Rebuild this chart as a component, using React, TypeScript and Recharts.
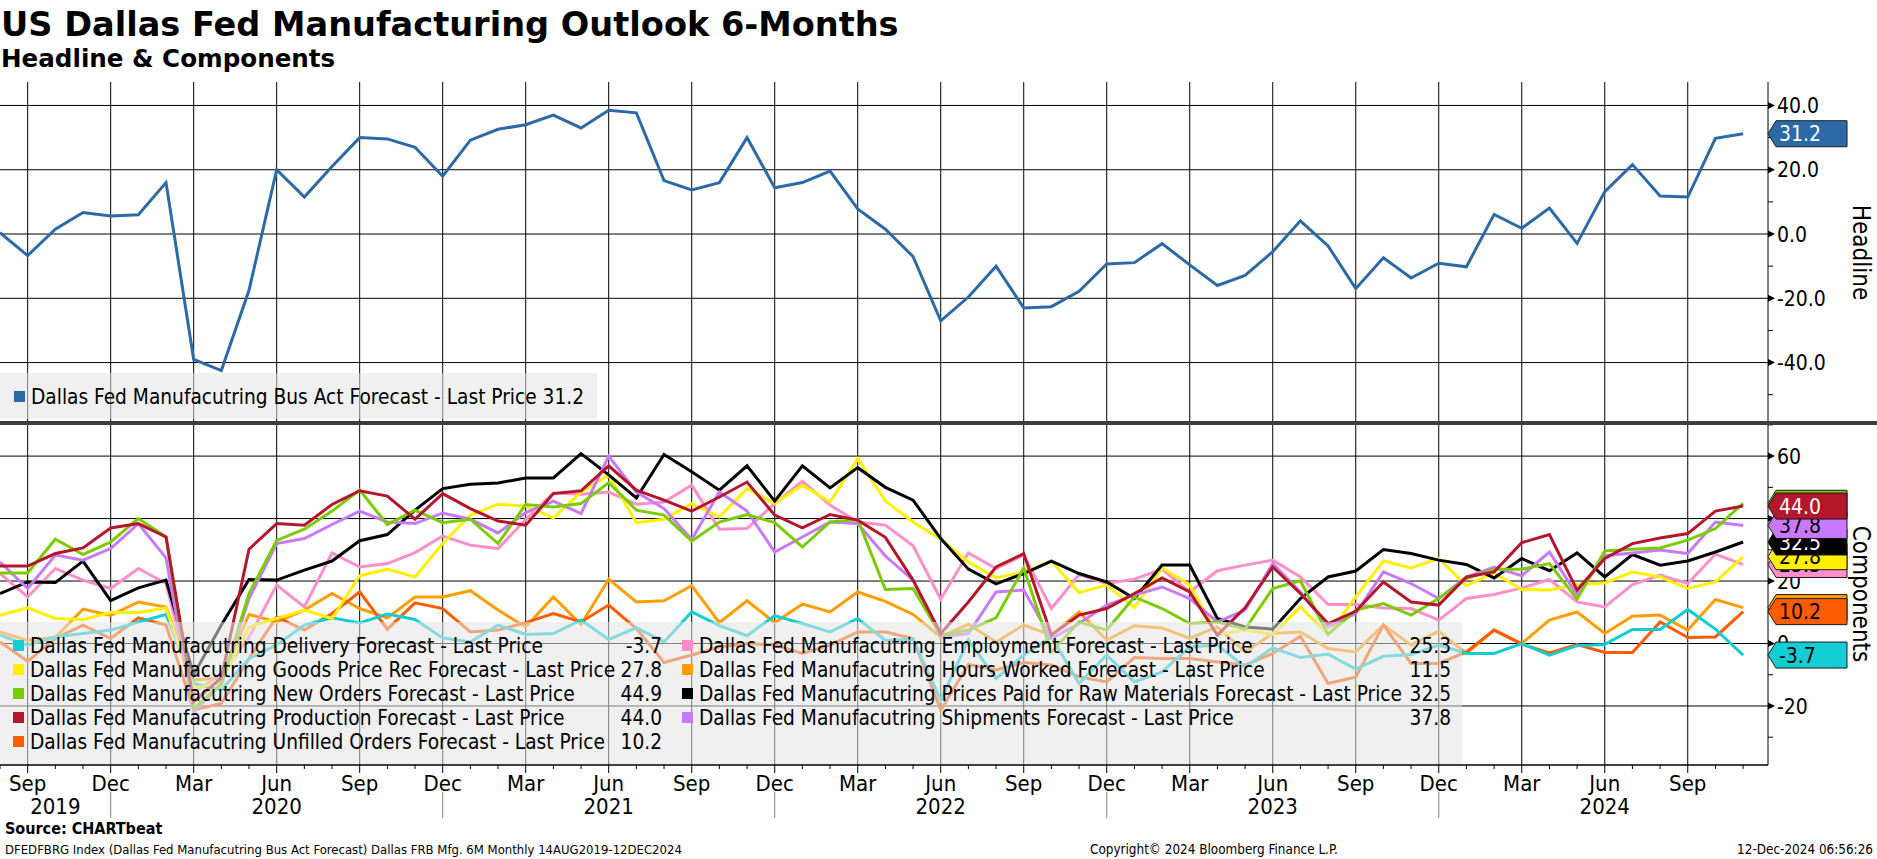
import React from 'react';
import { LineChart, Line, XAxis, YAxis, CartesianGrid, LabelList } from 'recharts';

// ---------- categories ----------
const months = [
  'Aug 2019', 'Sep 2019', 'Oct 2019', 'Nov 2019', 'Dec 2019',
  'Jan 2020', 'Feb 2020', 'Mar 2020', 'Apr 2020', 'May 2020', 'Jun 2020', 'Jul 2020', 'Aug 2020', 'Sep 2020', 'Oct 2020', 'Nov 2020', 'Dec 2020',
  'Jan 2021', 'Feb 2021', 'Mar 2021', 'Apr 2021', 'May 2021', 'Jun 2021', 'Jul 2021', 'Aug 2021', 'Sep 2021', 'Oct 2021', 'Nov 2021', 'Dec 2021',
  'Jan 2022', 'Feb 2022', 'Mar 2022', 'Apr 2022', 'May 2022', 'Jun 2022', 'Jul 2022', 'Aug 2022', 'Sep 2022', 'Oct 2022', 'Nov 2022', 'Dec 2022',
  'Jan 2023', 'Feb 2023', 'Mar 2023', 'Apr 2023', 'May 2023', 'Jun 2023', 'Jul 2023', 'Aug 2023', 'Sep 2023', 'Oct 2023', 'Nov 2023', 'Dec 2023',
  'Jan 2024', 'Feb 2024', 'Mar 2024', 'Apr 2024', 'May 2024', 'Jun 2024', 'Jul 2024', 'Aug 2024', 'Sep 2024', 'Oct 2024', 'Nov 2024',
];

// ---------- series ----------
const headline = [0.4, -6.7, 1.5, 6.7, 5.6, 6.0, 16.0, -39.0, -42.5, -17.5, 20.0, 11.5, 21.0, 30.0, 29.6, 27.0, 18.0, 29.2, 32.6, 34.0, 37.0, 33.0, 38.5, 37.7, 16.6, 13.7, 16.0, 30.0, 14.4, 16.0, 19.6, 7.8, 1.5, -7.0, -27.0, -19.6, -10.0, -23.0, -22.6, -17.8, -9.3, -8.9, -3.0, -9.6, -16.0, -12.9, -5.5, 4.1, -3.7, -17.0, -7.4, -13.7, -9.1, -10.2, 6.1, 1.8, 8.1, -2.9, 13.2, 21.6, 11.8, 11.5, 29.8, 31.2];
const delivery = [2.7, -0.5, 2.1, 3.2, 4.3, 6.9, 9.3, -12.8, -14.9, -4.8, -0.5, 5.9, 8.2, 6.6, 9.4, 7.7, 1.8, 0.5, 5.9, 2.9, 3.2, 7.5, 1.3, 5.1, 0.5, 10.1, 5.7, 2.5, 8.9, 6.4, 3.7, 8.0, 1.0, 1.4, -18.1, 1.1, -11.2, -3.7, 2.1, -12.8, -3.7, -12.3, -9.1, -1.1, -0.5, -7.5, -1.4, -4.5, -3.4, -8.2, -4.1, -3.5, -0.5, -3.2, -3.2, 0.0, -3.7, -0.7, -0.3, 4.5, 4.5, 10.9, 4.6, -3.7];
const goodsPrice = [9.0, 11.4, 8.0, 7.7, 9.9, 9.9, 11.4, -14.4, -12.3, 5.3, 8.0, 10.7, 8.0, 21.7, 23.8, 21.3, 32.0, 41.1, 44.6, 44.0, 40.2, 48.5, 53.9, 38.7, 39.8, 44.8, 40.5, 49.6, 44.8, 50.7, 45.3, 59.2, 45.6, 38.9, 33.4, 26.1, 21.0, 22.9, 26.4, 16.3, 18.7, 11.5, 24.2, 18.7, 2.9, 4.3, 2.9, 11.7, 2.9, 14.9, 26.4, 24.2, 27.2, 18.5, 22.7, 17.3, 17.1, 18.9, 19.4, 22.9, 21.3, 17.6, 19.7, 27.8];
const newOrders = [22.6, 22.6, 33.4, 28.5, 32.5, 40.0, 34.1, -20.8, -13.0, 16.0, 33.0, 36.6, 42.4, 49.1, 38.1, 42.7, 38.7, 39.8, 32.0, 44.5, 43.7, 44.8, 51.5, 42.7, 41.1, 32.8, 38.9, 41.3, 38.7, 30.9, 38.9, 39.7, 17.3, 17.6, 2.7, 4.3, 8.2, 24.2, -2.7, 6.9, 4.3, 14.9, 11.2, 6.4, 6.9, 4.6, 17.6, 20.1, 2.9, 10.7, 12.8, 9.1, 14.4, 20.8, 23.8, 23.8, 25.6, 14.2, 29.6, 30.2, 30.6, 33.1, 36.8, 44.9];
const production = [24.8, 24.8, 28.8, 30.6, 37.0, 38.4, 34.1, -18.7, -11.0, 30.2, 38.4, 37.9, 44.5, 48.9, 47.2, 39.8, 48.0, 43.2, 39.2, 37.9, 48.0, 48.9, 56.9, 49.1, 45.9, 42.4, 46.9, 51.7, 41.1, 37.0, 41.3, 39.5, 34.0, 20.3, 3.2, 13.3, 24.5, 28.8, 2.7, 9.1, 11.2, 16.0, 21.0, 16.5, 2.7, 11.4, 24.5, 16.0, 6.4, 10.3, 19.7, 13.3, 12.3, 21.3, 22.9, 32.3, 34.9, 17.1, 27.2, 32.0, 33.8, 35.2, 42.4, 44.0];
const unfilled = [0.5, -5.7, 1.6, 5.9, 1.6, 8.2, 5.9, -21.3, -19.2, -4.8, 8.5, 4.3, 9.6, 16.5, 4.6, 13.0, 11.2, 3.7, 4.3, 6.7, 9.6, 6.9, 12.3, 4.8, -6.1, -3.7, -1.1, 0.0, -0.5, -3.2, -0.5, 3.7, 3.7, 1.6, -21.3, -6.7, -8.5, -6.1, -6.9, -10.7, -12.3, -4.5, -4.8, -4.8, -5.9, -6.9, -3.2, 2.3, -12.8, -10.7, 5.9, -6.4, -6.4, -2.7, 4.3, -0.2, -3.0, -0.3, -2.9, -2.9, 6.9, 1.9, 2.1, 10.2];
const employment = [22.4, 14.9, 24.0, 20.3, 17.6, 24.0, 19.2, -15.5, -10.0, 2.0, 18.7, 11.7, 29.0, 24.5, 25.6, 29.1, 34.4, 31.5, 30.4, 39.7, 48.2, 47.8, 48.5, 44.6, 45.3, 50.7, 36.6, 36.8, 44.8, 52.0, 44.3, 38.9, 37.9, 31.3, 14.2, 29.0, 24.0, 28.3, 11.2, 22.1, 19.2, 20.6, 23.8, 16.5, 23.3, 25.1, 26.7, 21.3, 12.5, 12.5, 11.4, 11.2, 7.5, 14.4, 15.7, 17.8, 20.5, 13.3, 11.7, 18.9, 21.9, 19.2, 28.6, 25.3];
const hoursWorked = [3.7, 1.0, 2.0, 11.0, 9.0, 13.3, 11.7, -11.7, -11.0, 9.3, 6.9, 10.7, 16.0, 11.2, 8.2, 14.9, 14.9, 16.9, 10.7, 5.3, 14.9, 6.1, 20.6, 13.3, 13.7, 18.5, 6.7, 13.7, 6.7, 12.6, 10.1, 16.5, 13.5, 9.3, 2.1, 6.2, 0.5, 5.9, 2.7, 10.1, 1.1, 5.7, 5.0, 1.6, 5.3, -2.7, 3.2, 3.7, -1.6, -2.7, 5.9, -0.5, 3.9, -3.2, 4.3, 0.0, 7.5, 10.1, 3.2, 8.7, 9.1, 4.3, 14.1, 11.5];
const pricesPaid = [16.0, 19.7, 19.5, 26.4, 13.7, 17.8, 20.3, -10.0, 5.9, 20.5, 20.3, 23.5, 26.4, 32.9, 34.9, 42.7, 49.6, 51.0, 51.4, 53.0, 53.0, 60.8, 54.0, 46.6, 60.5, 55.0, 49.1, 56.9, 45.6, 56.9, 49.8, 56.3, 50.0, 45.9, 33.6, 23.8, 19.1, 22.4, 26.4, 22.4, 19.7, 14.4, 25.1, 25.1, 8.0, 5.3, 4.6, 14.4, 21.3, 23.2, 30.1, 28.8, 26.7, 25.3, 21.0, 27.2, 23.3, 29.0, 21.3, 28.5, 25.1, 26.4, 29.3, 32.5];
const shipments = [26.1, 17.6, 28.3, 26.7, 30.4, 38.4, 27.4, -21.9, -13.0, 14.4, 32.0, 33.6, 38.1, 42.4, 38.9, 38.4, 41.8, 39.8, 35.4, 41.9, 45.6, 41.6, 60.0, 48.5, 43.2, 33.3, 48.5, 42.4, 29.3, 34.1, 38.9, 38.4, 28.0, 20.3, 2.1, 3.2, 16.5, 17.1, 1.6, 6.4, 12.3, 15.5, 18.1, 14.4, 6.9, 10.7, 25.6, 16.5, 5.3, 9.6, 22.9, 19.2, 14.4, 21.3, 24.5, 21.7, 29.3, 15.5, 28.1, 29.0, 29.9, 28.8, 38.9, 37.8];

// ---------- ticks ----------
const quarterTicks = [1, 4, 7, 10, 13, 16, 19, 22, 25, 28, 31, 34, 37, 40, 43, 46, 49, 52, 55, 58, 61];
const quarterLabels = ['Sep', 'Dec', 'Mar', 'Jun', 'Sep', 'Dec', 'Mar', 'Jun', 'Sep', 'Dec', 'Mar', 'Jun', 'Sep', 'Dec', 'Mar', 'Jun', 'Sep', 'Dec', 'Mar', 'Jun', 'Sep'];
const yearTicks = [2, 10, 22, 34, 46, 58];
const yearLabels = ['2019', '2020', '2021', '2022', '2023', '2024'];
const yearSeparators = [4, 16, 28, 40, 52];
const headlineMajorTicks = [-40, -20, 0, 20, 40];
const headlineMinorTicks = [-50, -30, -10, 10, 30];
const compMajorTicks = [-20, 0, 20, 40, 60];
const compMinorTicks = [-30, -10, 10, 30, 50, 70];

// ---------- series styling ----------
const seriesNames: Record<string, string> = {
  delivery: 'Dallas Fed Manufacutring Delivery Forecast - Last Price',
  goodsPrice: 'Dallas Fed Manufacutring Goods Price Rec Forecast - Last Price',
  newOrders: 'Dallas Fed Manufacutring New Orders Forecast - Last Price',
  production: 'Dallas Fed Manufacutring Production Forecast - Last Price',
  unfilled: 'Dallas Fed Manufacutring Unfilled Orders Forecast - Last Price',
  employment: 'Dallas Fed Manufacutring Employment Forecast - Last Price',
  hoursWorked: 'Dallas Fed Manufacutring Hours Worked Forecast - Last Price',
  pricesPaid: 'Dallas Fed Manufacutring Prices Paid for Raw Materials Forecast - Last Price',
  shipments: 'Dallas Fed Manufacutring Shipments Forecast - Last Price',
  headline: 'Dallas Fed Manufacutring Bus Act Forecast - Last Price',
};
const seriesColors: Record<string, string> = {
  headline: '#2b6aa6',
  delivery: '#14cdd2',
  goodsPrice: '#fff000',
  newOrders: '#7acc00',
  production: '#b4162c',
  unfilled: '#ff5c00',
  employment: '#ff8fca',
  hoursWorked: '#ff9e00',
  pricesPaid: '#000000',
  shipments: '#c879ff',
};
const tagTextColors: Record<string, string> = {
  headline: '#ffffff', delivery: '#000000', goodsPrice: '#000000', newOrders: '#000000', production: '#ffffff',
  unfilled: '#000000', employment: '#000000', hoursWorked: '#000000', pricesPaid: '#ffffff', shipments: '#000000',
};
const seriesData: Record<string, number[]> = {
  headline, delivery, goodsPrice, newOrders, production, unfilled, employment, hoursWorked, pricesPaid, shipments,
};
const drawOrder = ['hoursWorked', 'unfilled', 'delivery', 'employment', 'goodsPrice', 'pricesPaid', 'shipments', 'newOrders', 'production'];
const legendCol1 = ['delivery', 'goodsPrice', 'newOrders', 'production', 'unfilled'];
const legendCol2 = ['employment', 'hoursWorked', 'pricesPaid', 'shipments'];

const rows = months.map((label, i) => {
  const r: Record<string, any> = { m: i, label };
  Object.keys(seriesData).forEach((k) => { r[k] = seriesData[k][i]; });
  return r;
});
const LAST = months.length - 1;

// ---------- layout ----------
const W = 1877;
const H = 859;
const PLOT_RIGHT = 1768;
const AXIS_W = W - PLOT_RIGHT;
const TOP_Y0 = 82;
const TOP_Y1 = 423;
const BOT_Y1 = 765;
const X_AXIS_H = 60;
const X_DOMAIN: [number, number] = [0, 63.9];
const TOP_DOMAIN: [number, number] = [-58.8, 47.3];
const BOT_DOMAIN: [number, number] = [-38.9, 70.6];
const COND = '"DejaVu Sans Condensed", "DejaVu Sans", sans-serif';
const SANS = '"DejaVu Sans", sans-serif';
const LEGEND_FS = 20.7;

const TAG_NECK = PLOT_RIGHT + 8;
const TAG_RIGHT = 1847;
const TAG_HALF = 13;

function Tag({ y, fill, color, text }: { y: number; fill: string; color: string; text: string }) {
  return (
    <g>
      <path
        d={`M${PLOT_RIGHT},${y} L${TAG_NECK},${y - TAG_HALF} L${TAG_RIGHT},${y - TAG_HALF} L${TAG_RIGHT},${y + TAG_HALF} L${TAG_NECK},${y + TAG_HALF} Z`}
        fill={fill}
        stroke="#1a1a1a"
        strokeWidth={1}
      />
      <text x={TAG_NECK + 3} y={y} dy="0.36em" fontSize={21} fill={color} fontFamily={COND} fontStretch="condensed">
        {text}
      </text>
    </g>
  );
}

const tagContent = (key: string) => (props: any) => {
  if (props.index !== LAST) return null;
  const y = Number(props.y ?? props.viewBox?.y);
  const v = Number(props.value);
  return <Tag y={y} fill={seriesColors[key]} color={tagTextColors[key]} text={v.toFixed(1)} />;
};

const makeYTick = (majors: number[], minors: number[], decimals: number) => (props: any) => {
  const { x, y, payload } = props;
  const v = payload.value;
  if (majors.includes(v)) {
    return (
      <g>
        <path d={`M${x},${y - 3.5} L${x + 7},${y} L${x},${y + 3.5} Z`} fill="#000" />
        <text x={x + 9} y={y} dy="0.36em" fontSize={21} fill="#000" fontFamily={COND} fontStretch="condensed">
          {v.toFixed(decimals)}
        </text>
      </g>
    );
  }
  if (minors.includes(v)) return <line x1={x} y1={y} x2={x + 5} y2={y} stroke="#000" strokeWidth={1} />;
  return null;
};

const MonthTick = (props: any) => {
  const { x, y, payload } = props;
  const v = payload.value;
  const qi = quarterTicks.indexOf(v);
  const yi = yearTicks.indexOf(v);
  const sep = yearSeparators.includes(v);
  return (
    <g>
      <line x1={x} y1={y} x2={x} y2={y + (qi >= 0 ? 8 : 4)} stroke="#000" strokeWidth={1} />
      {qi >= 0 && (
        <text x={x} y={y + 18} dy="0.36em" textAnchor="middle" fontSize={22} fill="#000" fontFamily={COND} fontStretch="condensed">
          {quarterLabels[qi]}
        </text>
      )}
      {yi >= 0 && (
        <text x={x} y={y + 41} dy="0.36em" textAnchor="middle" fontSize={22} fill="#000" fontFamily={COND} fontStretch="condensed">
          {yearLabels[yi]}
        </text>
      )}
      {sep && <line x1={x} y1={y + 27} x2={x} y2={y + 53} stroke="#808080" strokeWidth={1} />}
    </g>
  );
};

const axisTitle = (text: string) => (props: any) => {
  const vb = props.viewBox || {};
  const cx = vb.x + vb.width - 15;
  const cy = vb.y + vb.height / 2;
  return (
    <text transform={`translate(${cx},${cy}) rotate(90)`} textAnchor="middle" dy="0.36em" fontSize={24} fill="#000" fontFamily={COND} fontStretch="condensed">
      {text}
    </text>
  );
};

const legendBg = 'rgba(228,228,228,0.55)';

function LegendRow({ keyName, left, cy, valueRight }: { keyName: string; left: number; cy: number; valueRight: number }) {
  const data = seriesData[keyName];
  const common: React.CSSProperties = {
    position: 'absolute', top: cy - 12, height: 24, lineHeight: '24px', fontSize: LEGEND_FS,
    fontFamily: COND, fontStretch: 'condensed', whiteSpace: 'nowrap', color: '#000',
  };
  return (
    <>
      <div style={{ position: 'absolute', left: left, top: cy - 6, width: 11, height: 11, background: seriesColors[keyName] }} />
      <div style={{ ...common, left: left + 17 }}>{seriesNames[keyName]}</div>
      <div style={{ ...common, left: valueRight - 60, width: 60, textAlign: 'right' }}>
        {data[data.length - 1].toFixed(1)}
      </div>
    </>
  );
}

export default function App() {
  const botHeight = BOT_Y1 - TOP_Y1 + X_AXIS_H;
  const rowYs = [646, 670, 694, 718, 742];
  return (
    <div style={{ position: 'absolute', left: 0, top: 0, width: W, height: H, background: '#fff', overflow: 'hidden' }}>
      {/* top panel */}
      <div style={{ position: 'absolute', left: 0, top: TOP_Y0 }}>
        <LineChart width={W} height={TOP_Y1 - TOP_Y0} data={rows} margin={{ top: 0, right: 0, bottom: 0, left: 0 }}>
          <CartesianGrid
            horizontalValues={headlineMajorTicks}
            verticalValues={quarterTicks}
            syncWithTicks
            stroke="#000"
            strokeWidth={1}
          />
          <XAxis dataKey="m" type="number" domain={X_DOMAIN} ticks={quarterTicks} interval={0} allowDataOverflow hide />
          <YAxis
            orientation="right"
            type="number"
            domain={TOP_DOMAIN}
            allowDataOverflow
            ticks={[...headlineMinorTicks, ...headlineMajorTicks].sort((a, b) => a - b)}
            interval={0}
            width={AXIS_W}
            tickSize={0}
            tickMargin={0}
            tickLine={false}
            axisLine={{ stroke: '#000', strokeWidth: 1 }}
            tick={makeYTick(headlineMajorTicks, headlineMinorTicks, 1)}
            label={{ content: axisTitle('Headline') }}
          />
          <Line dataKey="headline" stroke={seriesColors.headline} strokeWidth={3} dot={false} activeDot={false} isAnimationActive={false}>
            <LabelList dataKey="headline" content={tagContent('headline')} />
          </Line>
        </LineChart>
      </div>

      {/* bottom panel */}
      <div style={{ position: 'absolute', left: 0, top: TOP_Y1 }}>
        <LineChart width={W} height={botHeight} data={rows} margin={{ top: 0, right: 0, bottom: 0, left: 0 }}>
          <CartesianGrid
            horizontalValues={compMajorTicks}
            verticalValues={quarterTicks}
            syncWithTicks
            stroke="#000"
            strokeWidth={1}
          />
          <XAxis
            dataKey="m"
            type="number"
            domain={X_DOMAIN}
            allowDataOverflow
            ticks={months.map((_, i) => i)}
            interval={0}
            height={X_AXIS_H}
            tickSize={0}
            tickMargin={0}
            tickLine={false}
            axisLine={{ stroke: '#000', strokeWidth: 1.5 }}
            tick={MonthTick}
          />
          <YAxis
            orientation="right"
            type="number"
            domain={BOT_DOMAIN}
            allowDataOverflow
            ticks={[...compMinorTicks, ...compMajorTicks].sort((a, b) => a - b)}
            interval={0}
            width={AXIS_W}
            tickSize={0}
            tickMargin={0}
            tickLine={false}
            axisLine={{ stroke: '#000', strokeWidth: 1 }}
            tick={makeYTick(compMajorTicks, compMinorTicks, 0)}
            label={{ content: axisTitle('Components') }}
          />
          {drawOrder.map((k) => (
            <Line key={k} dataKey={k} stroke={seriesColors[k]} strokeWidth={3} dot={false} activeDot={false} isAnimationActive={false}>
              <LabelList dataKey={k} content={tagContent(k)} />
            </Line>
          ))}
        </LineChart>
      </div>

      {/* panel separator */}
      <div style={{ position: 'absolute', left: 0, top: 421, width: W, height: 4, background: '#3d3d3d' }} />

      {/* top legend */}
      <div style={{ position: 'absolute', left: 0, top: 373, width: 597, height: 46, background: legendBg }} />
      <LegendRow keyName="headline" left={14} cy={397} valueRight={584} />

      {/* bottom legend */}
      <div style={{ position: 'absolute', left: 0, top: 622, width: 1462, height: 142, background: legendBg }} />
      {legendCol1.map((k, i) => (
        <LegendRow key={k} keyName={k} left={13} cy={rowYs[i]} valueRight={662} />
      ))}
      {legendCol2.map((k, i) => (
        <LegendRow key={k} keyName={k} left={682} cy={rowYs[i]} valueRight={1451} />
      ))}

      {/* static texts */}
      <svg width={W} height={H} style={{ position: 'absolute', left: 0, top: 0, pointerEvents: 'none' }}>
        <text x={1} y={36} fontSize={33.6} fontWeight="bold" fontFamily={SANS} fill="#000">
          US Dallas Fed Manufacturing Outlook 6-Months
        </text>
        <text x={1} y={67} fontSize={24.6} fontWeight="bold" fontFamily={SANS} fill="#000">
          Headline &amp; Components
        </text>
        <text x={5} y={834} fontSize={16} fontWeight="bold" fontFamily={COND} fontStretch="condensed" fill="#000">
          Source: CHARTbeat
        </text>
        <text x={5} y={854} fontSize={13} fontFamily={COND} fontStretch="condensed" fill="#000">
          DFEDFBRG Index (Dallas Fed Manufacutring Bus Act Forecast) Dallas FRB Mfg. 6M  Monthly 14AUG2019-12DEC2024
        </text>
        <text x={1090} y={854} fontSize={13.4} fontFamily={COND} fontStretch="condensed" fill="#000">
          Copyright© 2024 Bloomberg Finance L.P.
        </text>
        <text x={1873} y={854} textAnchor="end" fontSize={13.4} fontFamily={COND} fontStretch="condensed" fill="#000">
          12-Dec-2024 06:56:26
        </text>
      </svg>
    </div>
  );
}
